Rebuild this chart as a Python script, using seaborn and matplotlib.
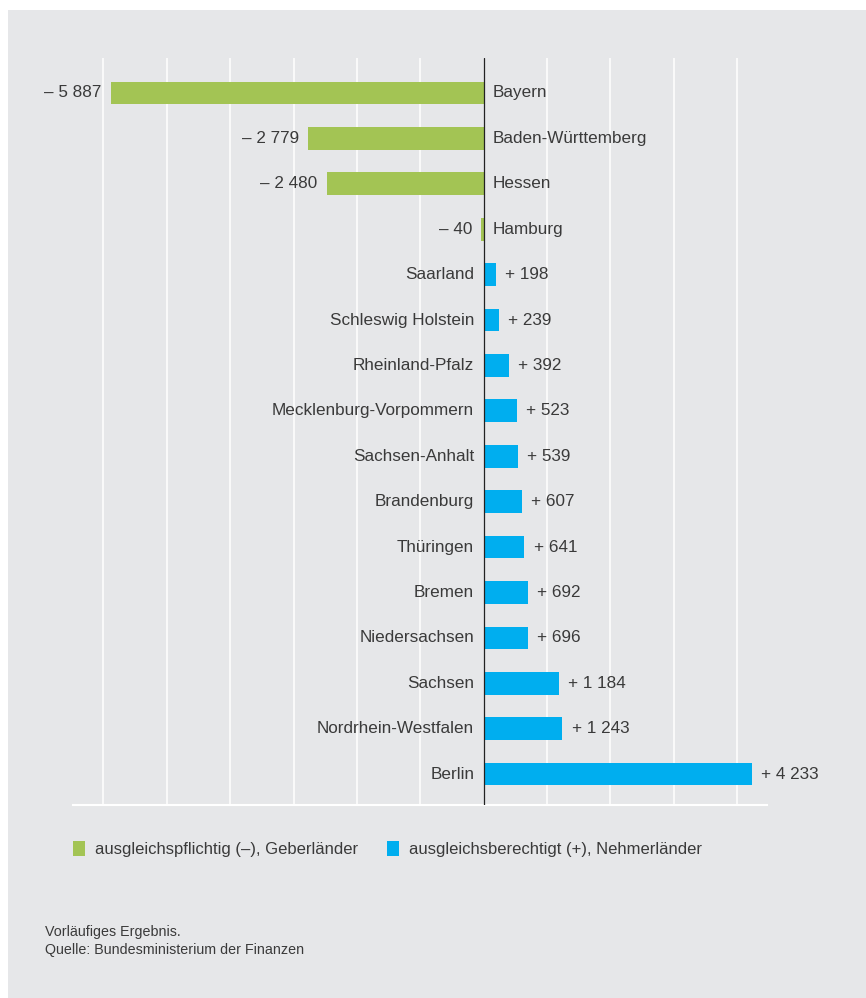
import matplotlib
matplotlib.use("Agg")
import matplotlib.pyplot as plt
import matplotlib.patches as mpatches
import seaborn as sns
import pandas as pd

laender = ["Bayern", "Baden-Württemberg", "Hessen", "Hamburg", "Saarland",
           "Schleswig Holstein", "Rheinland-Pfalz", "Mecklenburg-Vorpommern",
           "Sachsen-Anhalt", "Brandenburg", "Thüringen", "Bremen",
           "Niedersachsen", "Sachsen", "Nordrhein-Westfalen", "Berlin"]
werte = [-5887, -2779, -2480, -40, 198, 239, 392, 523, 539, 607, 641, 692,
         696, 1184, 1243, 4233]
gruppen = ["ausgleichspflichtig (–), Geberländer",
           "ausgleichsberechtigt (+), Nehmerländer"]
farben = ["#a3c454", "#00aeef"]
fussnote = ["Vorläufiges Ergebnis.", "Quelle: Bundesministerium der Finanzen"]

BG = "#e6e7e9"
TXT = "#3a3a3a"

df = pd.DataFrame({"land": laender, "wert": werte})
df["gruppe"] = [gruppen[0] if w < 0 else gruppen[1] for w in werte]

sns.set_theme(style="white")
plt.rcParams["font.family"] = ["Liberation Sans", "DejaVu Sans"]

fig = plt.figure(figsize=(8.66, 9.98), dpi=100, facecolor=BG)
# white margin on top and left
fig.patches.append(mpatches.Rectangle((0, 1 - 10 / 998), 1, 1,
                                      transform=fig.transFigure,
                                      facecolor="white", edgecolor="none", zorder=-5))
fig.patches.append(mpatches.Rectangle((0, 0), 8 / 866, 1,
                                      transform=fig.transFigure,
                                      facecolor="white", edgecolor="none", zorder=-5))
ax = fig.add_axes([73 / 866, 1 - 805 / 998, (767 - 73) / 866, (805 - 58) / 998])
ax.set_facecolor(BG)

sns.barplot(data=df, x="wert", y="land", hue="gruppe", hue_order=gruppen,
            palette=farben, dodge=False, width=0.5, orient="h",
            saturation=1, ax=ax, legend=False, zorder=3, linewidth=0)

ax.set_xlim(-6480, 4470)
ax.set_ylim(15.68, -0.77)
for g in range(-6000, 4001, 1000):
    if g != 0:
        ax.axvline(g, color="white", lw=1.1, zorder=1)
ax.axvline(0, color="#222222", lw=0.9, zorder=4)
for s in ["top", "right", "left"]:
    ax.spines[s].set_visible(False)
ax.spines["bottom"].set_color("white")
ax.spines["bottom"].set_linewidth(1.5)
ax.set_xticks([])
ax.set_yticks([])
ax.set_xlabel("")
ax.set_ylabel("")

fs = 12.3
for i, (land, w) in enumerate(zip(laender, werte)):
    betrag = f"{abs(w):,}".replace(",", " ")
    if w < 0:
        ax.text(w - 140, i, "– " + betrag, ha="right", va="center",
                fontsize=fs, color=TXT)
        ax.text(145, i, land, ha="left", va="center", fontsize=fs, color=TXT)
    else:
        ax.text(w + 145, i, "+ " + betrag, ha="left", va="center",
                fontsize=fs, color=TXT)
        ax.text(-150, i, land, ha="right", va="center", fontsize=fs, color=TXT)

handles = [mpatches.Patch(facecolor=c, edgecolor="none") for c in farben]
fig.legend(handles, gruppen, loc="center left",
           bbox_to_anchor=(58 / 866, 1 - 849 / 998), ncol=2, frameon=False,
           fontsize=12, handlelength=0.7, handleheight=1.0,
           handletextpad=0.6, columnspacing=1.75, labelcolor=TXT)

fig.text(45 / 866, 1 - 932 / 998, fussnote[0], fontsize=10.3, color=TXT,
         va="center")
fig.text(45 / 866, 1 - 950 / 998, fussnote[1], fontsize=10.3, color=TXT,
         va="center")

fig.savefig("out.png", dpi=100, facecolor=BG)
